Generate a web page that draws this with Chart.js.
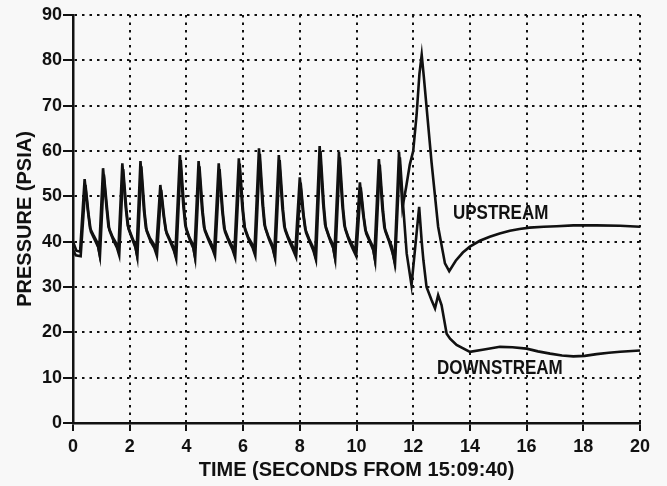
<!DOCTYPE html>
<html>
<head>
<meta charset="utf-8">
<title>Pressure vs time</title>
<script src="https://cdn.jsdelivr.net/npm/chart.js@4/dist/chart.umd.min.js"></script>
<style>
  html, body { margin: 0; padding: 0; background: #f8f8f8; }
</style>
</head>
<body>
<canvas id="chart" width="667" height="486"></canvas>
<script>
// seconds from 15:09:40
const timeTicks = [0, 2, 4, 6, 8, 10, 12, 14, 16, 18, 20];
const pressureTicks = [0, 10, 20, 30, 40, 50, 60, 70, 80, 90];

const upstreamTime = [
  0.00, 0.12, 0.25, 0.41, 0.52, 0.60, 0.74, 0.86,
  0.92, 1.06, 1.18, 1.25, 1.40, 1.52,
  1.60, 1.74, 1.86, 1.93, 2.07, 2.18,
  2.24, 2.38, 2.50, 2.57, 2.71, 2.84,
  2.93, 3.08, 3.19, 3.27, 3.41, 3.53,
  3.61, 3.77, 3.89, 3.96, 4.10, 4.22,
  4.28, 4.43, 4.55, 4.62, 4.76, 4.89,
  4.98, 5.14, 5.26, 5.33, 5.47, 5.60,
  5.69, 5.85, 5.97, 6.04, 6.18, 6.31,
  6.40, 6.56, 6.68, 6.75, 6.89, 7.01,
  7.10, 7.26, 7.38, 7.45, 7.59, 7.72,
  7.84, 8.00, 8.11, 8.19, 8.33, 8.45,
  8.54, 8.70, 8.82, 8.89, 9.03, 9.15,
  9.22, 9.38, 9.50, 9.57, 9.71, 9.84,
  9.96, 10.12, 10.23, 10.31, 10.45, 10.57,
  10.63, 10.79, 10.91, 10.98, 11.12, 11.24,
  11.34, 11.50, 11.62, 11.75, 11.88, 12.00, 12.12, 12.22, 12.30, 12.38, 12.47, 12.65, 12.88, 13.12, 13.27,
  13.50, 13.75, 14.00, 14.35, 14.70, 15.05, 15.41, 15.75, 16.10, 16.60, 17.06, 17.65, 18.47, 19.30, 20.00
];
const upstreamPsia = [
  40.0, 38.0, 37.8, 53.8, 47.0, 43.0, 41.2, 39.8,
  37.8, 56.2, 47.7, 43.3, 41.0, 39.7,
  38.1, 57.3, 47.5, 43.5, 41.2, 39.5,
  37.6, 57.8, 47.0, 43.0, 40.8, 39.6,
  38.0, 52.5, 46.0, 42.5, 40.6, 39.0,
  37.2, 59.1, 48.0, 43.6, 41.0, 39.5,
  37.4, 57.8, 47.2, 43.2, 41.0, 39.4,
  37.8, 57.3, 47.0, 43.0, 40.8, 39.2,
  37.5, 58.4, 47.6, 43.4, 41.0, 39.6,
  37.9, 60.6, 48.5, 43.8, 41.2, 39.6,
  37.3, 59.1, 47.8, 43.4, 41.0, 39.4,
  37.6, 54.2, 46.5, 42.8, 40.6, 39.0,
  37.0, 61.1, 48.6, 43.8, 41.2, 39.6,
  37.2, 59.8, 48.0, 43.6, 41.0, 39.4,
  37.8, 53.1, 46.2, 42.6, 40.6, 39.0,
  36.8, 58.2, 47.4, 43.2, 40.8, 39.0,
  35.5, 59.8, 47.5, 52.0, 57.0, 60.0, 68.0, 77.0, 81.2, 76.0, 69.8, 57.3, 43.3, 35.2, 33.5,
  35.8, 37.6, 38.9, 40.2, 41.1, 41.8, 42.4, 42.8, 43.1, 43.3, 43.4, 43.6, 43.6, 43.5, 43.3
];

const downstreamTime = [
  0.00, 0.10, 0.27, 0.44, 0.55, 0.63, 0.77, 0.89,
  0.95, 1.09, 1.21, 1.28, 1.43, 1.55,
  1.63, 1.77, 1.89, 1.96, 2.10, 2.21,
  2.27, 2.41, 2.53, 2.60, 2.74, 2.87,
  2.96, 3.11, 3.22, 3.30, 3.44, 3.56,
  3.64, 3.80, 3.92, 3.99, 4.13, 4.25,
  4.31, 4.46, 4.58, 4.65, 4.79, 4.92,
  5.01, 5.17, 5.29, 5.36, 5.50, 5.63,
  5.72, 5.88, 6.00, 6.07, 6.21, 6.34,
  6.43, 6.59, 6.71, 6.78, 6.92, 7.04,
  7.13, 7.29, 7.41, 7.48, 7.62, 7.75,
  7.87, 8.03, 8.14, 8.22, 8.36, 8.48,
  8.57, 8.73, 8.85, 8.92, 9.06, 9.18,
  9.25, 9.41, 9.53, 9.60, 9.74, 9.87,
  9.99, 10.15, 10.26, 10.34, 10.48, 10.60,
  10.66, 10.82, 10.94, 11.01, 11.15, 11.27,
  11.36, 11.53, 11.65, 11.77, 11.94, 12.21, 12.30, 12.36, 12.47, 12.65, 12.77, 12.88, 13.00, 13.18, 13.30, 13.53,
  14.00, 14.50, 15.06, 15.50, 16.00, 16.40, 16.83, 17.25, 17.65, 18.05, 18.47, 18.90, 19.30, 20.00
];
const downstreamPsia = [
  38.2, 37.0, 36.8, 52.5, 46.0, 42.2, 40.4, 38.8,
  36.8, 54.8, 46.8, 42.6, 40.2, 38.7,
  37.0, 56.0, 46.6, 42.8, 40.4, 38.6,
  36.6, 56.6, 46.2, 42.3, 40.0, 38.6,
  36.9, 51.4, 45.2, 41.8, 39.8, 38.0,
  36.2, 58.0, 47.2, 42.8, 40.2, 38.5,
  36.4, 56.6, 46.4, 42.4, 40.2, 38.4,
  36.8, 56.0, 46.2, 42.2, 40.0, 38.2,
  36.5, 57.2, 46.8, 42.6, 40.2, 38.6,
  36.9, 59.4, 47.6, 43.0, 40.4, 38.6,
  36.3, 58.0, 47.0, 42.6, 40.2, 38.4,
  36.6, 53.0, 45.6, 42.0, 39.8, 38.0,
  36.0, 60.0, 47.8, 43.0, 40.4, 38.6,
  36.2, 58.6, 47.2, 42.8, 40.2, 38.4,
  36.8, 52.0, 45.4, 41.8, 39.8, 38.0,
  35.8, 57.0, 46.6, 42.4, 40.0, 37.5,
  35.2, 58.6, 47.5, 37.4, 30.4, 47.7, 40.0, 35.9, 30.0, 27.1, 25.3, 28.2, 26.0, 19.7, 18.6, 17.2,
  15.7, 16.2, 16.8, 16.7, 16.4, 15.8, 15.3, 14.9, 14.7, 14.8, 15.2, 15.5, 15.7, 16.0
];

const toPoints = (ts, ps) => ts.map((t, i) => ({ x: t, y: ps[i] }));

const INK = '#111';
const tickFont = { family: 'Liberation Sans', weight: 'bold', size: 18 };
const titleFont = { family: 'Liberation Sans', weight: 'bold', size: 20 };

// names written next to each trace, placed in data units;
// the face is squeezed horizontally to get a narrow bold lettering
const curveLabels = {
  id: 'curveLabels',
  afterDatasetsDraw(chart) {
    const { ctx, scales: { x, y } } = chart;
    const items = [
      { text: 'UPSTREAM', t: 13.4, p: 46.3 },
      { text: 'DOWNSTREAM', t: 12.84, p: 12.1 }
    ];
    const squeeze = 0.83;
    ctx.save();
    ctx.fillStyle = INK;
    ctx.font = 'bold 20.5px "Liberation Sans"';
    ctx.textAlign = 'left';
    ctx.textBaseline = 'middle';
    items.forEach(it => {
      ctx.save();
      ctx.translate(x.getPixelForValue(it.t), y.getPixelForValue(it.p));
      ctx.scale(squeeze, 1);
      ctx.fillText(it.text, 0, 0);
      ctx.restore();
    });
    ctx.restore();
  }
};

const lineStyle = {
  borderColor: INK,
  borderWidth: 2.6,
  pointRadius: 0,
  tension: 0,
  fill: false
};

new Chart(document.getElementById('chart').getContext('2d'), {
  type: 'line',
  data: {
    datasets: [
      { label: 'UPSTREAM', data: toPoints(upstreamTime, upstreamPsia), ...lineStyle },
      { label: 'DOWNSTREAM', data: toPoints(downstreamTime, downstreamPsia), ...lineStyle }
    ]
  },
  options: {
    responsive: false,
    animation: false,
    layout: { padding: { top: 15, right: 27, left: 0, bottom: 0 } },
    plugins: {
      legend: { display: false },
      tooltip: { enabled: false }
    },
    scales: {
      x: {
        type: 'linear',
        min: 0,
        max: 20,
        afterBuildTicks: s => { s.ticks = timeTicks.map(v => ({ value: v })); },
        afterFit: s => { s.height = 63; },
        ticks: { color: INK, font: tickFont, padding: 5, maxRotation: 0, autoSkip: false },
        grid: { color: INK, lineWidth: 2, tickLength: 8, tickColor: INK, tickWidth: 2 },
        border: { display: true, color: INK, width: 2.5, dash: [2.5, 5] },
        title: {
          display: true,
          text: 'TIME (SECONDS FROM 15:09:40)',
          color: INK,
          font: titleFont,
          padding: { top: 0, bottom: 4 }
        }
      },
      y: {
        type: 'linear',
        min: 0,
        max: 90,
        afterBuildTicks: s => { s.ticks = pressureTicks.map(v => ({ value: v })); },
        afterFit: s => { s.width = 73; },
        ticks: { color: INK, font: tickFont, padding: 1 },
        grid: { color: INK, lineWidth: 2, tickLength: 10, tickColor: INK, tickWidth: 2 },
        border: { display: true, color: INK, width: 2.5, dash: [2.5, 5] },
        title: {
          display: true,
          text: 'PRESSURE (PSIA)',
          color: INK,
          font: titleFont,
          padding: { top: 13, bottom: 0 }
        }
      }
    }
  },
  plugins: [curveLabels]
});
</script>
</body>
</html>
